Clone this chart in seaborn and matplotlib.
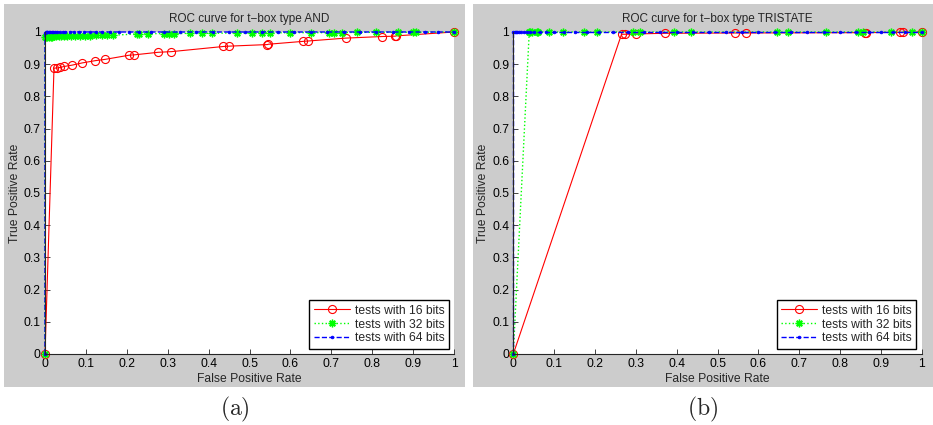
import numpy as np
import pandas as pd
import matplotlib
matplotlib.use("Agg")
import matplotlib.pyplot as plt
from matplotlib.patches import Rectangle
import seaborn as sns

# ---- data ----
titles = ["ROC curve for t\u2212box type AND", "ROC curve for t\u2212box type TRISTATE"]
captions = ["(a)", "(b)"]
series_labels = ["tests with 16 bits", "tests with 32 bits", "tests with 64 bits"]
tick_vals = [0, 0.1, 0.2, 0.3, 0.4, 0.5, 0.6, 0.7, 0.8, 0.9, 1]
tick_labels = ["0", "0.1", "0.2", "0.3", "0.4", "0.5", "0.6", "0.7", "0.8", "0.9", "1"]

# panel (a): AND
and_fpr_16 = [0, 0.022, 0.029, 0.037, 0.047, 0.066, 0.091, 0.123, 0.147, 0.206, 0.218,
              0.277, 0.309, 0.436, 0.449, 0.544, 0.546, 0.632, 0.643, 0.735, 0.825,
              0.856, 0.859, 1.0]
and_tpr_16 = [0, 0.888, 0.888, 0.890, 0.893, 0.897, 0.904, 0.911, 0.915, 0.928, 0.929,
              0.937, 0.939, 0.955, 0.956, 0.961, 0.962, 0.971, 0.972, 0.981, 0.986,
              0.987, 0.988, 1.0]

and_fpr_32 = [0, 0, 0.003, 0.006, 0.010, 0.014, 0.018, 0.023, 0.028, 0.034, 0.040, 0.047,
              0.055, 0.064, 0.074, 0.085, 0.097, 0.110, 0.124, 0.139, 0.152, 0.167,
              0.225, 0.231, 0.253, 0.290, 0.302, 0.315, 0.355, 0.384, 0.409, 0.470,
              0.507, 0.531, 0.550, 0.600, 0.650, 0.694, 0.707, 0.727, 0.764, 0.809,
              0.862, 0.899, 0.907, 1.0]
and_tpr_32 = [0, 0.983, 0.984, 0.985, 0.985, 0.986, 0.986, 0.987, 0.987, 0.987, 0.988, 0.988,
              0.988, 0.988, 0.989, 0.989, 0.989, 0.989, 0.990, 0.990, 0.990, 0.990,
              0.994, 0.994, 0.995, 0.995, 0.995, 0.995, 0.996, 0.996, 0.996, 0.997,
              0.997, 0.997, 0.997, 0.998, 0.998, 0.998, 0.998, 0.998, 0.999, 0.999,
              0.999, 0.999, 0.999, 1.0]

and_fpr_64 = [0, 0, 0.002, 0.004, 0.006, 0.009, 0.012, 0.016, 0.020, 0.025, 0.030, 0.036,
              0.043, 0.050, 0.060, 0.070, 0.082, 0.095, 0.110, 0.125, 0.140, 0.160,
              0.180, 0.205, 0.230, 0.260, 0.290, 0.330, 0.370, 0.410, 0.450, 0.490,
              0.530, 0.570, 0.610, 0.650, 0.690, 0.730, 0.770, 0.810, 0.850, 0.890,
              0.930, 0.960, 1.0]
and_tpr_64 = [0, 0.998, 0.999, 0.999, 0.999, 0.999, 0.999, 0.999, 1.0, 1.0, 1.0, 1.0,
              1.0, 1.0, 1.0, 1.0, 1.0, 1.0, 1.0, 1.0, 1.0, 1.0,
              1.0, 1.0, 1.0, 1.0, 1.0, 1.0, 1.0, 1.0, 1.0, 1.0,
              1.0, 1.0, 1.0, 1.0, 1.0, 1.0, 1.0, 1.0, 1.0, 1.0,
              1.0, 1.0, 1.0]

# panel (b): TRISTATE
tri_fpr_16 = [0, 0.265, 0.273, 0.300, 0.371, 0.544, 0.570, 0.860, 0.864, 0.947, 0.953, 1.0]
tri_tpr_16 = [0, 0.993, 0.993, 0.994, 0.996, 0.997, 0.997, 0.998, 0.998, 0.999, 0.999, 1.0]

tri_fpr_32 = [0, 0.039, 0.041, 0.045, 0.059, 0.061, 0.087, 0.122, 0.174, 0.204, 0.294,
              0.310, 0.393, 0.435, 0.645, 0.672, 0.766, 0.845, 0.857, 0.924, 0.976, 1.0]
tri_tpr_32 = [0, 0.999, 1.0, 1.0, 1.0, 1.0, 1.0, 1.0, 1.0, 1.0, 1.0,
              1.0, 1.0, 1.0, 1.0, 1.0, 1.0, 1.0, 1.0, 1.0, 1.0, 1.0]

tri_fpr_64 = [0, 0, 0.003, 0.006, 0.010, 0.015, 0.020, 0.026, 0.033, 0.040, 0.050, 0.065,
              0.080, 0.100, 0.125, 0.150, 0.180, 0.210, 0.245, 0.280, 0.320, 0.360,
              0.400, 0.440, 0.480, 0.520, 0.560, 0.600, 0.640, 0.680, 0.720, 0.760,
              0.800, 0.840, 0.870, 0.900, 0.930, 0.960, 1.0]
tri_tpr_64 = [0, 1.0, 1.0, 1.0, 1.0, 1.0, 1.0, 1.0, 1.0, 1.0, 1.0, 1.0,
              1.0, 1.0, 1.0, 1.0, 1.0, 1.0, 1.0, 1.0, 1.0, 1.0,
              1.0, 1.0, 1.0, 1.0, 1.0, 1.0, 1.0, 1.0, 1.0, 1.0,
              1.0, 1.0, 1.0, 1.0, 1.0, 1.0, 1.0]

panels = [
    [(and_fpr_16, and_tpr_16), (and_fpr_32, and_tpr_32), (and_fpr_64, and_tpr_64)],
    [(tri_fpr_16, tri_tpr_16), (tri_fpr_32, tri_tpr_32), (tri_fpr_64, tri_tpr_64)],
]

# ---- style ----
sns.set_style("ticks")
plt.rcParams["font.family"] = ["Liberation Sans", "DejaVu Sans"]
plt.rcParams["mathtext.fontset"] = "cm"

styles = [
    dict(color="#ff0000", marker="o", markerfacecolor="none", markeredgecolor="#ff0000",
         markersize=5.8, markeredgewidth=0.8, linestyle="-", linewidth=0.8),
    dict(color="#00ff00", marker=(8, 2, 0), markerfacecolor="#00ff00", markeredgecolor="#00ff00",
         markersize=5.5, markeredgewidth=1.0, linestyle=":", linewidth=1.0),
    dict(color="#0000ff", marker=".", markerfacecolor="#0000ff", markeredgecolor="#0000ff",
         markersize=4, markeredgewidth=0.5, linestyle="--", linewidth=1.0),
]

W, H = 933, 425
fig = plt.figure(figsize=(W / 100, H / 100), dpi=100)
fig.patch.set_facecolor("white")

# gray figure panels (pixel boxes: left, top, right, bottom)
gray_boxes = [(4, 4, 465, 387), (473, 4, 933, 387)]
for l, t, r, b in gray_boxes:
    fig.add_artist(Rectangle((l / W, 1 - b / H), (r - l) / W, (b - t) / H,
                             transform=fig.transFigure, facecolor="#cccccc",
                             edgecolor="none", zorder=-10))

axes_px = [(45, 32, 454, 354), (513.3, 32, 921.7, 354)]
caption_x = [234.5, 703]

for i, (l, t, r, b) in enumerate(axes_px):
    ax = fig.add_axes([l / W, 1 - b / H, (r - l) / W, (b - t) / H])
    ax.set_zorder(5)
    ax.set_facecolor("white")
    for (x, y), lab, st in zip(panels[i], series_labels, styles):
        df = pd.DataFrame({"fpr": x, "tpr": y})
        sns.lineplot(data=df, x="fpr", y="tpr", ax=ax, sort=False, estimator=None,
                     label=lab, clip_on=False, **st)
    ax.set_xlim(0, 1)
    ax.set_ylim(0, 1)
    ax.set_xticks(tick_vals)
    ax.set_xticklabels(tick_labels)
    ax.set_yticks(tick_vals)
    ax.set_yticklabels(tick_labels)
    ax.tick_params(direction="in", length=3.5, width=0.6, labelsize=8.7, pad=3,
                   colors="#262626")
    ax.tick_params(labelcolor="black")
    for s in ["top", "right"]:
        ax.spines[s].set_visible(False)
    for s in ["bottom", "left"]:
        ax.spines[s].set_color("#262626")
        ax.spines[s].set_linewidth(0.8)
    ax.set_title(titles[i], fontsize=8.5, pad=7)
    ax.set_xlabel("False Positive Rate", fontsize=8.7, labelpad=2)
    ax.set_ylabel("True Positive Rate", fontsize=8.7, labelpad=2)
    leg = ax.legend(loc="lower right", fontsize=8.7, frameon=True, fancybox=False,
                    handlelength=3.0, borderaxespad=0.45, borderpad=0.35,
                    labelspacing=0.15, handletextpad=0.4)
    leg.get_frame().set_edgecolor("black")
    leg.get_frame().set_linewidth(1.0)
    leg.get_frame().set_alpha(1)
    fig.text(caption_x[i] / W, 1 - 409 / H, r"$\mathrm{" + captions[i] + "}$",
             ha="center", va="center", fontsize=17)

fig.savefig("out.png", dpi=100)
